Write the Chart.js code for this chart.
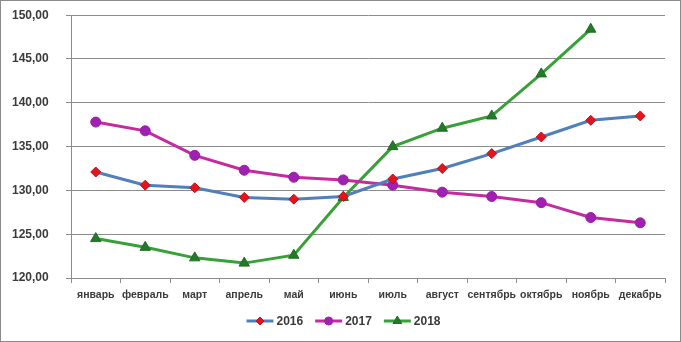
<!DOCTYPE html>
<html>
<head>
<meta charset="utf-8">
<script src="https://cdn.jsdelivr.net/npm/chart.js@4/dist/chart.umd.min.js"></script>
<style>
  html, body { margin: 0; padding: 0; background: #ffffff; }
  #wrap { width: 681px; height: 342px; }
</style>
</head>
<body>
<div id="wrap"><canvas id="c" width="681" height="342"></canvas></div>
<script>
// Monthly index values by year
const months = ['январь', 'февраль', 'март', 'апрель', 'май', 'июнь',
                'июль', 'август', 'сентябрь', 'октябрь', 'ноябрь', 'декабрь'];
const values2016 = [132.1, 130.6, 130.3, 129.2, 129.0, 129.3, 131.3, 132.5, 134.2, 136.1, 138.0, 138.5];
const values2017 = [137.8, 136.8, 134.0, 132.3, 131.5, 131.2, 130.6, 129.8, 129.3, 128.6, 126.9, 126.3];
const values2018 = [124.5, 123.5, 122.3, 121.7, 122.6, 129.2, 135.0, 137.1, 138.5, 143.3, 148.4, null];
const seriesNames = ['2016', '2017', '2018'];

const gridGray = '#8c8c8c';
const textColor = '#3a3a3a';
const fontFamily = '"Liberation Sans", Arial, sans-serif';

// White background and thin frame around the whole canvas
const framePlugin = {
  id: 'frame',
  beforeDraw(chart) {
    const ctx = chart.ctx;
    ctx.save();
    ctx.fillStyle = '#ffffff';
    ctx.fillRect(0, 0, chart.width, chart.height);
    ctx.restore();
  },
  afterDraw(chart) {
    const ctx = chart.ctx;
    ctx.save();
    ctx.strokeStyle = '#8a8a8a';
    ctx.lineWidth = 1;
    ctx.strokeRect(0.5, 0.5, chart.width - 1, chart.height - 1);
    ctx.restore();
  }
};

// Legend entries drawn as a line segment with the series marker in the middle
const lineLegendPlugin = {
  id: 'lineLegend',
  afterDraw(chart) {
    const ctx = chart.ctx;
    const y = 321;
    const lineLen = 27;
    const gap = 3;
    const itemGap = 12;
    ctx.save();
    ctx.font = 'bold 12px ' + fontFamily;
    const items = chart.data.datasets.map(ds => ({
      ds, w: lineLen + gap + ctx.measureText(ds.label).width
    }));
    const total = items.reduce((a, it) => a + it.w, 0) + itemGap * (items.length - 1);
    let x = (chart.width - total) / 2 + 3;
    items.forEach(it => {
      const ds = it.ds;
      ctx.strokeStyle = ds.borderColor;
      ctx.lineWidth = ds.borderWidth;
      ctx.beginPath();
      ctx.moveTo(x, y);
      ctx.lineTo(x + lineLen, y);
      ctx.stroke();
      ctx.fillStyle = ds.pointBackgroundColor;
      ctx.strokeStyle = ds.pointBorderColor;
      ctx.lineWidth = 1;
      Chart.helpers.drawPoint(ctx, {
        pointStyle: ds.pointStyle,
        radius: ds.pointRadius - 1,
        borderWidth: 1,
        rotation: 0
      }, x + lineLen / 2, y);
      ctx.fillStyle = textColor;
      ctx.textAlign = 'left';
      ctx.textBaseline = 'middle';
      ctx.fillText(ds.label, x + lineLen + gap, y + 1);
      x += it.w + itemGap;
    });
    ctx.restore();
  }
};

new Chart(document.getElementById('c'), {
  type: 'line',
  data: {
    labels: months,
    datasets: [
      {
        label: seriesNames[0],
        data: values2016,
        borderColor: '#4f7fbd',
        borderWidth: 3,
        pointStyle: 'rectRot',
        pointRadius: 5,
        pointBackgroundColor: '#e3141c',
        pointBorderColor: '#c01018',
        pointBorderWidth: 1,
        tension: 0
      },
      {
        label: seriesNames[1],
        data: values2017,
        borderColor: '#c52b9e',
        borderWidth: 3,
        pointStyle: 'circle',
        pointRadius: 5,
        pointBackgroundColor: '#a020b0',
        pointBorderColor: '#9a1ea8',
        pointBorderWidth: 1,
        tension: 0
      },
      {
        label: seriesNames[2],
        data: values2018,
        borderColor: '#37a137',
        borderWidth: 3,
        pointStyle: 'triangle',
        pointRadius: 6,
        pointBackgroundColor: '#24792a',
        pointBorderColor: '#1f6e24',
        pointBorderWidth: 1,
        tension: 0,
        spanGaps: false
      }
    ]
  },
  options: {
    responsive: false,
    animation: false,
    devicePixelRatio: 1,
    layout: { padding: { top: 0, right: 16, bottom: 30, left: 12 } },
    plugins: {
      legend: { display: false },
      tooltip: { enabled: false }
    },
    scales: {
      x: {
        type: 'category',
        offset: true,
        afterFit(scale) { scale.height = 34; },
        grid: {
          offset: true,
          drawOnChartArea: false,
          drawTicks: true,
          tickLength: 5,
          color: gridGray,
          lineWidth: 1
        },
        border: { display: true, color: gridGray, width: 1 },
        ticks: {
          autoSkip: false,
          maxRotation: 0,
          minRotation: 0,
          padding: 6,
          color: textColor,
          font: { family: fontFamily, size: 10.5, weight: 'bold' }
        }
      },
      y: {
        min: 120,
        max: 150,
        afterFit(scale) { scale.width = 59; },
        grid: {
          color: gridGray,
          lineWidth: 1,
          drawTicks: true,
          tickLength: 5
        },
        border: { display: true, color: gridGray, width: 1 },
        ticks: {
          stepSize: 5,
          padding: 8,
          crossAlign: 'far',
          color: textColor,
          font: { family: fontFamily, size: 12, weight: 'bold' },
          callback: v => v.toFixed(2).replace('.', ',')
        }
      }
    }
  },
  plugins: [framePlugin, lineLegendPlugin]
});
</script>
</body>
</html>
